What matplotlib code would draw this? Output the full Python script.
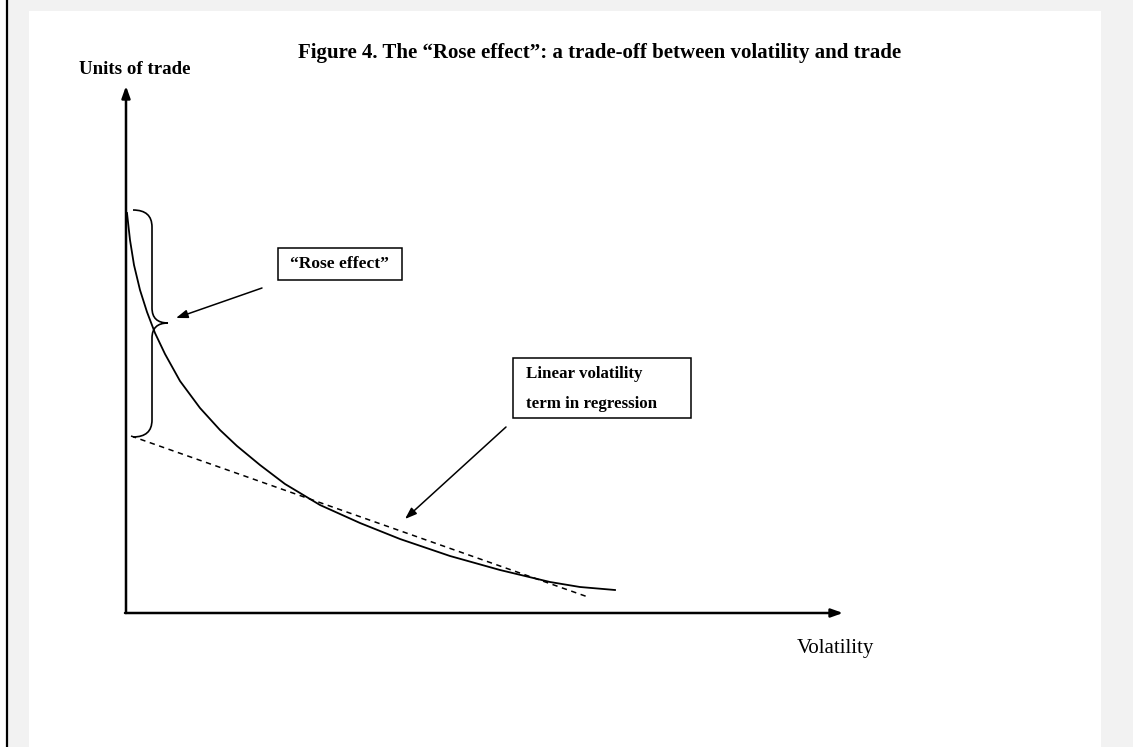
import matplotlib
matplotlib.use("Agg")
import matplotlib.pyplot as plt
from matplotlib.patches import Rectangle, PathPatch
from matplotlib.path import Path

W, H = 1133, 747

# curve (volatility, units of trade)
curve_x = [0.1, 0.4, 0.8, 1.4, 2.1, 2.9, 3.9, 5.4, 7.4, 9.4, 11.1, 13.4, 15.9,
           19.4, 23.4, 27.4, 32.4, 37.4, 42.4, 45.4, 48.9]
curve_y = [40.0, 37.3, 34.8, 32.3, 30.1, 28.0, 25.9, 23.2, 20.5, 18.3, 16.7, 14.8, 12.9,
           10.8, 9.0, 7.4, 5.7, 4.3, 3.1, 2.6, 2.3]

# linear volatility term (dashed)
lin_x = [0.5, 46.2]
lin_y = [17.7, 1.6]

title = "Figure 4. The \u201cRose effect\u201d: a trade-off between volatility and trade"
ylabel = "Units of trade"
xlabel = "Volatility"
rose_label = "\u201cRose effect\u201d"
lin_label = ["Linear volatility", "term in regression"]

plt.rcParams['font.family'] = ['Liberation Serif', 'DejaVu Serif']

fig = plt.figure(figsize=(W / 100, H / 100), dpi=100)
fig.patch.set_facecolor('#f2f2f2')

# page background
bg = fig.add_axes([0, 0, 1, 1])
bg.set_xlim(0, W)
bg.set_ylim(H, 0)
bg.axis('off')
bg.add_patch(Rectangle((29, 11), 1072, H - 11, facecolor='white', edgecolor='none'))
bg.add_patch(Rectangle((0, 0), 6, H, facecolor='white', edgecolor='none'))
bg.plot([7, 7], [0, H], color='black', lw=1.6)

# chart axes: origin at (126, 613) px, 10 px per unit
x0, y0 = 126, 613
xmax, ymax = 71.7, 52.7
ax = fig.add_axes([x0 / W, 1 - y0 / H, xmax * 10 / W, ymax * 10 / H])
ax.set_xlim(0, xmax)
ax.set_ylim(0, ymax)
ax.axis('off')
ax.patch.set_alpha(0)

arrow = dict(arrowstyle='-|>,head_length=0.7,head_width=0.25', color='black', lw=1.8,
             shrinkA=0, shrinkB=0)
ax.annotate('', xy=(0, ymax), xytext=(0, 0), arrowprops=arrow, annotation_clip=False)
ax.annotate('', xy=(xmax, 0), xytext=(-0.1, 0), arrowprops=arrow, annotation_clip=False)

ax.plot(curve_x, curve_y, color='black', lw=1.3, solid_joinstyle='round')
ax.plot(lin_x, lin_y, color='black', lw=1.1, linestyle=(0, (3.5, 3)))

# brace
verts = [(0.7, 40.3), (2.6, 40.3), (2.6, 38.6),
         (2.6, 30.5),
         (2.6, 29.0), (4.2, 29.0),
         (2.6, 29.0), (2.6, 27.5),
         (2.6, 19.3),
         (2.6, 17.6), (0.7, 17.6)]
codes = [Path.MOVETO, Path.CURVE3, Path.CURVE3,
         Path.LINETO,
         Path.CURVE3, Path.CURVE3,
         Path.CURVE3, Path.CURVE3,
         Path.LINETO,
         Path.CURVE3, Path.CURVE3]
ax.add_patch(PathPatch(Path(verts, codes), facecolor='none', edgecolor='black', lw=1.2))

# label boxes
ax.add_patch(Rectangle((15.2, 33.3), 12.4, 3.2, facecolor='white', edgecolor='black', lw=1.1))
ax.text(16.4, 34.9, rose_label, fontsize=12.5, fontweight='bold', va='center', ha='left')
ax.add_patch(Rectangle((38.7, 19.5), 17.8, 6.0, facecolor='white', edgecolor='black', lw=1.1))
ax.text(40.0, 23.9, lin_label[0], fontsize=12.2, fontweight='bold', va='center', ha='left')
ax.text(40.0, 20.9, lin_label[1], fontsize=12.2, fontweight='bold', va='center', ha='left')

small = dict(arrowstyle='-|>,head_length=0.7,head_width=0.25', color='black', lw=1.1,
             shrinkA=0, shrinkB=0)
ax.annotate('', xy=(5.0, 29.5), xytext=(13.6, 32.5), arrowprops=small)
ax.annotate('', xy=(27.9, 9.4), xytext=(38.0, 18.6), arrowprops=small)

fig.text(600 / W, 1 - 53 / H, title, fontsize=15, fontweight='bold', ha='center', va='center')
fig.text(135 / W, 1 - 69 / H, ylabel, fontsize=13.6, fontweight='bold', ha='center', va='center')
fig.text(835 / W, 1 - 648 / H, xlabel, fontsize=15, ha='center', va='center')

fig.savefig('out.png', dpi=100, facecolor=fig.get_facecolor())
